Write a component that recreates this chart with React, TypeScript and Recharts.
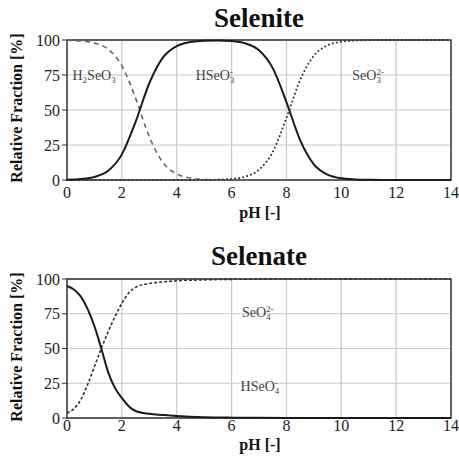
import {
  CartesianGrid,
  Line,
  LineChart,
  ReferenceArea,
  ReferenceDot,
  XAxis,
  YAxis,
} from 'recharts'

// Selenite / selenate speciation vs pH — two stacked line charts.

const selenitePH = [0, 0.5, 1, 1.5, 2, 2.5, 3, 3.5, 4, 4.5, 5, 5.5, 6, 6.5, 7, 7.5, 8, 8.5, 9, 9.5, 10, 10.5, 11, 11.5, 12, 12.5, 13, 13.5, 14]
const h2seo3 = [99.8, 99.3, 97.8, 93.4, 81.7, 58.5, 30.9, 12.4, 4.3, 1.4, 0.4, 0.1, 0, 0, 0, 0, 0, 0, 0, 0, 0, 0, 0, 0, 0, 0, 0, 0, 0]
const hseo3 = [0.2, 0.7, 2.2, 6.6, 18.3, 41.5, 69.1, 87.6, 95.7, 98.6, 99.5, 99.6, 99.2, 97.6, 92.6, 79.9, 55.7, 28.5, 11.2, 3.8, 1.2, 0.4, 0.1, 0, 0, 0, 0, 0, 0]
const seo3 = [0, 0, 0, 0, 0, 0, 0, 0, 0, 0, 0, 0.25, 0.8, 2.4, 7.4, 20.1, 44.3, 71.5, 88.8, 96.2, 98.8, 99.6, 99.9, 100, 100, 100, 100, 100, 100]

const selenatePH = [0, 0.25, 0.5, 0.75, 1, 1.25, 1.5, 1.75, 2, 2.25, 2.5, 3, 3.5, 4, 5, 6, 7, 8, 10, 12, 14]
const hseo4 = [95, 92.5, 87.5, 78.5, 66, 50, 33, 21.5, 14.5, 8.5, 5, 3, 2.2, 1.5, 0.6, 0.25, 0.1, 0.05, 0, 0, 0]
const seo4 = [3.5, 6.7, 13, 24, 37, 50, 62, 73, 82.5, 90, 94, 96.8, 97.9, 98.7, 99.4, 99.75, 99.9, 100, 100, 100, 100]

const xTicks = [0, 2, 4, 6, 8, 10, 12, 14]
const yTicks = [0, 25, 50, 75, 100]

const seleniteData = selenitePH.map((ph, i) => ({ ph, h2: h2seo3[i], h: hseo3[i], s: seo3[i] }))
const selenateData = selenatePH.map((ph, i) => ({ ph, h: hseo4[i], s: seo4[i] }))

const FONT = 'Liberation Serif, DejaVu Serif, serif'
const W = 459

// species label: [text, 'n' | 'sub' | 'subsup', sup?]
type Part = [string, 'n' | 'sub' | 'subsup', string?]

function Species({ cx, cy, parts }: { cx?: number; cy?: number; parts: Part[] }) {
  if (cx == null || cy == null) return null
  const out: any[] = []
  let shifted = false
  parts.forEach(([t, kind, sup], i) => {
    if (kind === 'n') {
      out.push(<tspan key={i} dy={shifted ? -3 : 0}>{t}</tspan>)
      shifted = false
    } else {
      out.push(<tspan key={i} fontSize={9} dy={shifted ? 0 : 3}>{t}</tspan>)
      shifted = true
      if (kind === 'subsup' && sup) {
        out.push(<tspan key={i + 's'} fontSize={9} dx={-4.5} dy={-8}>{sup}</tspan>)
      }
    }
  })
  return (
    <text x={cx} y={cy + 4.6} fill="#444" fontSize={14} style={{ fontFamily: FONT }}>
      {out}
    </text>
  )
}

const labelStyle = { position: 'absolute' as const, fontFamily: FONT, fontWeight: 'bold', color: '#111', whiteSpace: 'nowrap' as const }

function Panel({
  title,
  top,
  height,
  marginTop,
  axisHeight,
  tickMargin,
  titleTop,
  xLabelTop,
  children,
  data,
}: any) {
  const plotTop = top + marginTop
  const plotBottom = top + height - axisHeight
  return (
    <>
      <div style={{ ...labelStyle, top: titleTop, left: 0, width: 518, textAlign: 'center', fontSize: 27, lineHeight: '30px' }}>{title}</div>
      <div
        style={{
          ...labelStyle,
          fontSize: 16,
          lineHeight: '18px',
          left: 17,
          top: (plotTop + plotBottom) / 2 - 2,
          transform: 'translate(-50%, -50%) rotate(-90deg)',
        }}
      >
        Relative Fraction [%]
      </div>
      <div style={{ ...labelStyle, top: xLabelTop, left: 0, width: 520, textAlign: 'center', fontSize: 16, lineHeight: '18px' }}>pH [-]</div>
      <div style={{ position: 'absolute', left: 0, top, fontFamily: FONT }}>
        <LineChart width={W} height={height} data={data} margin={{ top: marginTop, right: 8, left: 0, bottom: 0 }}>
          <CartesianGrid stroke="#c8c8c8" strokeWidth={1.2} />
          <XAxis
            dataKey="ph"
            type="number"
            domain={[0, 14]}
            ticks={xTicks}
            height={axisHeight}
            tickSize={0}
            tickMargin={tickMargin}
            axisLine={false}
            tick={{ fill: '#222', fontSize: 16, style: { fontFamily: FONT } }}
          />
          <YAxis
            domain={[0, 100]}
            ticks={yTicks}
            width={67}
            tickSize={5}
            tickMargin={2}
            axisLine={false}
            tickLine={{ stroke: '#333' }}
            tick={{ fill: '#222', fontSize: 16, style: { fontFamily: FONT } }}
          />
          <ReferenceArea x1={0} x2={14} y1={0} y2={100} fill="none" stroke="#333" strokeWidth={1.4} />
          {children}
        </LineChart>
      </div>
    </>
  )
}

export default function App() {
  return (
    <div style={{ position: 'absolute', left: 0, top: 0, width: W, height: 465, background: '#fff', overflow: 'hidden' }}>
      <Panel
        title="Selenite"
        top={0}
        height={232}
        marginTop={40}
        axisHeight={52}
        tickMargin={7}
        titleTop={3}
        xLabelTop={204}
        data={seleniteData}
      >
        <Line dataKey="h2" type="monotone" stroke="#666" strokeWidth={1.6} strokeDasharray="5 4" dot={false} isAnimationActive={false} />
        <Line dataKey="s" type="monotone" stroke="#333" strokeWidth={2} strokeDasharray="0.1 4" strokeLinecap="round" dot={false} isAnimationActive={false} />
        <Line dataKey="h" type="monotone" stroke="#1a1a1a" strokeWidth={2} dot={false} isAnimationActive={false} />
        <ReferenceDot x={0.2} y={75} r={0} shape={(p: any) => <Species {...p} parts={[['H', 'n'], ['2', 'sub'], ['SeO', 'n'], ['3', 'sub']]} />} />
        <ReferenceDot x={4.69} y={75} r={0} shape={(p: any) => <Species {...p} parts={[['HSeO', 'n'], ['3', 'subsup', '-']]} />} />
        <ReferenceDot x={10.4} y={75} r={0} shape={(p: any) => <Species {...p} parts={[['SeO', 'n'], ['3', 'subsup', '2-']]} />} />
      </Panel>
      <Panel
        title="Selenate"
        top={232}
        height={233}
        marginTop={47}
        axisHeight={47}
        tickMargin={2}
        titleTop={241}
        xLabelTop={436}
        data={selenateData}
      >
        <Line dataKey="s" type="monotone" stroke="#333" strokeWidth={1.6} strokeDasharray="3 2" dot={false} isAnimationActive={false} />
        <Line dataKey="h" type="monotone" stroke="#1a1a1a" strokeWidth={2} dot={false} isAnimationActive={false} />
        <ReferenceDot x={6.38} y={76} r={0} shape={(p: any) => <Species {...p} parts={[['SeO', 'n'], ['4', 'subsup', '2-']]} />} />
        <ReferenceDot x={6.33} y={23} r={0} shape={(p: any) => <Species {...p} parts={[['HSeO', 'n'], ['4', 'subsup', '-']]} />} />
      </Panel>
    </div>
  )
}
